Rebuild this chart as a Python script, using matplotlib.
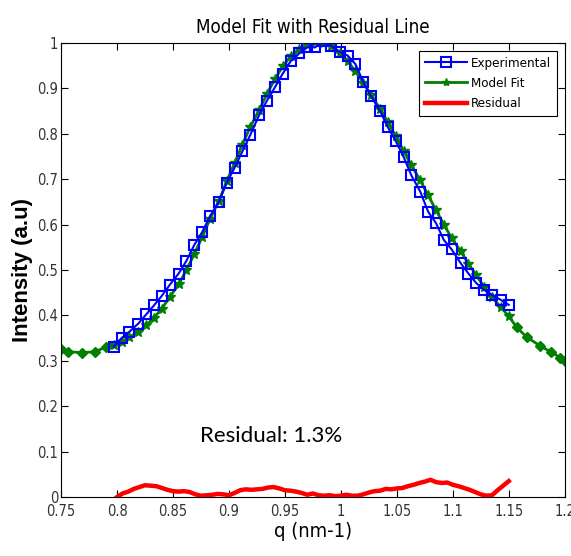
import matplotlib
matplotlib.use("Agg")
import matplotlib.pyplot as plt
from matplotlib import font_manager
import numpy as np

# experimental data (q in nm-1, normalised intensity)
exp_q = [0.797, 0.804, 0.811, 0.819, 0.826, 0.833, 0.840, 0.847, 0.855, 0.862,
         0.869, 0.876, 0.883, 0.891, 0.898, 0.905, 0.912, 0.919, 0.927, 0.934,
         0.941, 0.948, 0.955, 0.963, 0.970, 0.977, 0.984, 0.991, 0.999, 1.006,
         1.013, 1.020, 1.027, 1.035, 1.042, 1.049, 1.056, 1.063, 1.071, 1.078,
         1.085, 1.092, 1.099, 1.107, 1.114, 1.121, 1.128, 1.135, 1.143, 1.150]
exp_i = [0.331, 0.350, 0.364, 0.382, 0.402, 0.422, 0.443, 0.467, 0.492, 0.520,
         0.555, 0.583, 0.618, 0.650, 0.692, 0.725, 0.761, 0.797, 0.841, 0.873,
         0.902, 0.932, 0.959, 0.977, 0.990, 0.990, 1.003, 0.994, 0.980, 0.972,
         0.953, 0.914, 0.882, 0.850, 0.814, 0.784, 0.749, 0.708, 0.672, 0.628,
         0.603, 0.566, 0.545, 0.515, 0.492, 0.471, 0.456, 0.445, 0.434, 0.423]

# model fit over the full q range
model_q = [0.750, 0.756, 0.769, 0.780, 0.790] + exp_q + [1.157, 1.166, 1.178, 1.188, 1.196, 1.200]
model_i = [0.326, 0.320, 0.318, 0.320, 0.330,
           0.335, 0.342, 0.352, 0.364, 0.378, 0.395, 0.415, 0.440, 0.468, 0.500,
           0.535, 0.572, 0.612, 0.652, 0.695, 0.735, 0.776, 0.815, 0.852, 0.888,
           0.920, 0.948, 0.970, 0.987, 0.998, 1.002, 1.000, 0.992, 0.978, 0.960,
           0.937, 0.912, 0.885, 0.855, 0.825, 0.794, 0.762, 0.730, 0.697, 0.664,
           0.632, 0.600, 0.570, 0.541, 0.514, 0.488, 0.463, 0.440, 0.418, 0.398,
           0.374, 0.352, 0.333, 0.319, 0.307, 0.300]

# residual |exp - model|
res_q = [0.800, 0.805, 0.810, 0.815, 0.820, 0.825, 0.830, 0.835, 0.840, 0.845,
         0.850, 0.855, 0.860, 0.865, 0.870, 0.875, 0.880, 0.885, 0.890, 0.895,
         0.900, 0.905, 0.910, 0.915, 0.920, 0.925, 0.930, 0.935, 0.940, 0.945,
         0.950, 0.955, 0.960, 0.965, 0.970, 0.975, 0.980, 0.985, 0.990, 0.995,
         1.000, 1.005, 1.010, 1.015, 1.020, 1.025, 1.030, 1.035, 1.040, 1.045,
         1.050, 1.055, 1.060, 1.065, 1.070, 1.075, 1.080, 1.085, 1.090, 1.095,
         1.100, 1.105, 1.110, 1.115, 1.120, 1.125, 1.130, 1.135, 1.140, 1.145, 1.150]
res_i = [0.000, 0.008, 0.012, 0.018, 0.022, 0.026, 0.025, 0.024, 0.020, 0.016,
         0.013, 0.012, 0.013, 0.011, 0.006, 0.003, 0.004, 0.005, 0.007, 0.006,
         0.004, 0.009, 0.015, 0.017, 0.016, 0.017, 0.018, 0.021, 0.022, 0.019,
         0.015, 0.014, 0.012, 0.009, 0.005, 0.008, 0.004, 0.003, 0.004, 0.002,
         0.003, 0.005, 0.003, 0.003, 0.006, 0.010, 0.013, 0.014, 0.018, 0.017,
         0.019, 0.020, 0.024, 0.027, 0.031, 0.034, 0.038, 0.033, 0.031, 0.032,
         0.027, 0.024, 0.020, 0.016, 0.011, 0.006, 0.003, 0.004, 0.015, 0.025, 0.035]

xticks = [0.75, 0.8, 0.85, 0.9, 0.95, 1, 1.05, 1.1, 1.15, 1.2]
xlabels = ['0.75', '0.8', '0.85', '0.9', '0.95', '1', '1.05', '1.1', '1.15', '1.2']
yticks = [0, 0.1, 0.2, 0.3, 0.4, 0.5, 0.6, 0.7, 0.8, 0.9, 1]
ylabels = ['0', '0.1', '0.2', '0.3', '0.4', '0.5', '0.6', '0.7', '0.8', '0.9', '1']

# narrow font like MATLAB's default, if one is installed
names = {f.name for f in font_manager.fontManager.ttflist}
narrow = ['Liberation Sans Narrow'] if 'Liberation Sans Narrow' in names else ['DejaVu Sans']
stretch = 'normal' if narrow[0] == 'Liberation Sans Narrow' else 'condensed'
green = '#007f00'

fig = plt.figure(figsize=(5.71, 5.56), dpi=100)
ax = fig.add_axes([0.107, 0.106, 0.882, 0.817])

mq = np.array(model_q)
mi = np.array(model_i)
inner = (mq >= 0.795) & (mq <= 1.151)

ax.plot(exp_q, exp_i, color='#0000ff', lw=1.5, marker='s', ms=7,
        mfc='none', mec='#0000ff', mew=1.5, label='Experimental', zorder=3)
ax.plot(mq, mi, color=green, lw=2, zorder=2)
ax.plot(mq[inner], mi[inner], ls='none', marker='*', ms=7, color=green, zorder=2)
ax.plot(mq[~inner], mi[~inner], ls='none', marker='D', ms=5.5, color=green, zorder=2)
ax.plot([], [], color=green, lw=2, marker='*', ms=6, label='Model Fit')
ax.plot(res_q, res_i, color='#ff0000', lw=3.2, label='Residual', zorder=4)

ax.text(0.9375, 0.134, 'Residual: 1.3%', fontsize=16, family='Lato', ha='center', va='center')

tick_font = dict(family=narrow, stretch=stretch, size=10.5)
ax.set_xlim(0.75, 1.2)
ax.set_ylim(0, 1)
ax.set_xticks(xticks)
ax.set_xticklabels(xlabels, fontdict=tick_font, color='#333333')
ax.set_yticks(yticks)
ax.set_yticklabels(ylabels, fontdict=tick_font, color='#333333')
ax.tick_params(axis='x', pad=5)
ax.tick_params(axis='y', pad=2)
ax.tick_params(direction='in', top=True, right=True, length=5, width=0.8)
for s in ax.spines.values():
    s.set_linewidth(0.8)

ax.set_title('Model Fit with Residual Line', family=narrow, stretch=stretch, fontsize=13.5, pad=7)
ax.set_xlabel('q (nm-1)', family=narrow, stretch=stretch, fontsize=14.5, labelpad=2)
ax.set_ylabel('Intensity (a.u)', family='Liberation Sans', fontsize=16, fontweight='bold', labelpad=3)

leg = ax.legend(loc='upper right',
                prop={'family': narrow, 'stretch': stretch, 'size': 9.5},
                fancybox=False, edgecolor='black', framealpha=1,
                handlelength=3.2, borderaxespad=0.6, labelspacing=0.55,
                handletextpad=0.25, borderpad=0.45)
leg.get_frame().set_linewidth(0.8)

fig.savefig('out.png', dpi=100)
